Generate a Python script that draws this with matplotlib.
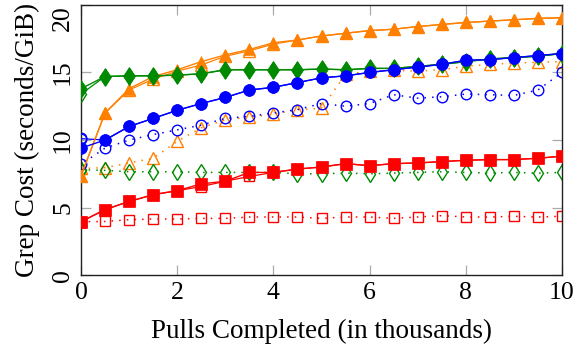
import numpy as np
import matplotlib.pyplot as plt

plt.rcParams['font.family'] = ['Liberation Serif', 'DejaVu Serif']

x = np.arange(0, 10.01, 0.5)
x_dot = np.concatenate([[0.0], x])   # dotted runs show two marks at x=0

orange_main = [7.35, 12.0, 13.8, 14.7, 15.2, 15.8, 16.3, 16.7, 17.2, 17.4, 17.7,
               17.9, 18.1, 18.2, 18.4, 18.55, 18.7, 18.8, 18.9, 19.0, 19.05]
orange_alt = [7.35, 12.0, 13.7, 14.5, 15.1, 15.55, 16.2, 16.6, 17.1, 17.4, 17.7,
              17.9, 18.1, 18.2, 18.4, 18.55, 18.7, 18.8, 18.9, 19.0, 19.05]
orange_dot = [7.9, 7.9, 7.95, 8.3, 8.65, 9.9, 10.9, 11.5, 11.7, 11.9, 12.25, 12.35,
              14.85, 15.1, 15.15, 15.1, 15.2, 15.45, 15.6, 15.7, 15.75, 15.8]

green_main = [13.8, 14.7, 14.75, 14.75, 14.8, 14.9, 15.2, 15.2, 15.2, 15.2, 15.25,
              15.2, 15.3, 15.3, 15.45, 15.6, 15.8, 16.0, 16.1, 16.2, 16.4]
green_alt = [13.4, 14.7, 14.75, 14.75, 14.8, 14.9, 15.2, 15.2, 15.2, 15.2, 15.25,
             15.2, 15.3, 15.3, 15.45, 15.6, 15.8, 16.0, 16.1, 16.2, 16.4]
green_dot = [7.8, 7.8, 7.75, 7.65, 7.65, 7.65, 7.6, 7.6, 7.6, 7.6, 7.5, 7.5,
             7.55, 7.5, 7.55, 7.6, 7.65, 7.6, 7.55, 7.6, 7.55, 7.6]

blue_main = [9.4, 10.0, 11.0, 11.6, 12.2, 12.7, 13.15, 13.7, 13.9, 14.25, 14.6,
             14.75, 15.0, 15.2, 15.4, 15.6, 15.9, 15.95, 16.1, 16.25, 16.4]
blue_alt = [10.1, 10.0, 11.0, 11.6, 12.2, 12.7, 13.15, 13.7, 13.9, 14.25, 14.6,
            14.75, 15.0, 15.2, 15.4, 15.6, 15.9, 15.95, 16.1, 16.25, 16.4]
blue_dot = [10.15, 8.2, 9.4, 10.0, 10.4, 10.75, 11.1, 11.6, 11.75, 12.0, 12.25, 12.7,
            12.5, 12.7, 13.35, 13.1, 13.2, 13.4, 13.35, 13.3, 13.7, 15.0]

red_main = [3.95, 4.85, 5.45, 5.95, 6.25, 6.75, 6.95, 7.6, 7.6, 7.85, 8.0,
            8.25, 8.1, 8.25, 8.3, 8.4, 8.5, 8.55, 8.55, 8.65, 8.8]
red_alt = [3.95, 4.85, 5.45, 5.95, 6.25, 6.55, 6.95, 7.3, 7.6, 7.85, 8.0,
           8.25, 8.1, 8.25, 8.3, 8.4, 8.5, 8.55, 8.55, 8.65, 8.8]
red_dot = [3.95, 3.95, 3.97, 4.1, 4.15, 4.15, 4.2, 4.2, 4.3, 4.3, 4.3, 4.2,
           4.3, 4.3, 4.2, 4.3, 4.4, 4.3, 4.3, 4.35, 4.3, 4.35]

ORANGE = '#ff8000'
GREEN = '#008a00'
BLUE = '#0000ff'
RED = '#ff0000'
dots = (0, (1, 4))

fig = plt.figure(figsize=(5.77, 3.5), dpi=100)
ax = fig.add_axes([0.1404, 0.214, 0.8336, 0.772])

# colour, marker, filled size, open size
series = [
    (ORANGE, '^', 9, 8, orange_main, orange_alt, orange_dot),
    (GREEN, 'd', 9.5, 8, green_main, green_alt, green_dot),
    (BLUE, 'o', 8.5, 7.6, blue_main, blue_alt, blue_dot),
    (RED, 's', 8, 7.2, red_main, red_alt, red_dot),
]

for col, mk, ms, ms_open, main, alt, dot in series:
    ax.plot(x_dot, dot, color=col, lw=1.1, linestyle=dots, marker=mk, ms=ms_open,
            mfc='none', mec=col, mew=1.0, zorder=2)
    ax.plot(x, alt, color=col, lw=0.9, marker=mk, ms=ms_open, mfc='none',
            mec=col, mew=1.0, zorder=3)
    ax.plot(x, main, color=col, lw=1.0, marker=mk, ms=ms, mfc=col, mec=col,
            mew=0.5, zorder=4)

ax.set_xlim(0, 10)
ax.set_ylim(0, 20)
ax.set_xticks([0, 2, 4, 6, 8, 10])
ax.set_yticks([0, 5, 10, 15, 20])
ax.tick_params(direction='in', length=7, width=0.9, color='#aaaaaa',
               top=True, right=True, labelsize=18.5)
ax.tick_params(axis='x', pad=5)
ax.tick_params(axis='y', pad=5)
for lab in ax.get_yticklabels():
    lab.set_rotation(90)
    lab.set_va('center')
ax.get_yticklabels()[-1].set_va('top')

for s in ax.spines.values():
    s.set_linewidth(1.0)
    s.set_color('#222222')

ax.set_xlabel('Pulls Completed (in thousands)', fontsize=19.5, labelpad=11)
ax.set_ylabel('Grep Cost (seconds/GiB)', fontsize=19.5, labelpad=9)

fig.savefig('out.png', dpi=100)
